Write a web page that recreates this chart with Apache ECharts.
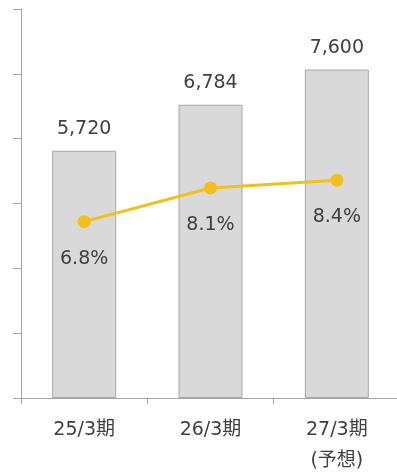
<!DOCTYPE html>
<html><head><meta charset="utf-8">
<script src="https://cdn.jsdelivr.net/npm/echarts@6/dist/echarts.min.js"></script>
<style>html,body{margin:0;padding:0;background:#fff}#c{width:397px;height:476px}</style>
</head><body><div id="c"></div>
<script>
const categories = ['25/3期', '26/3期', '27/3期\n(予想)'];
const sales = [5720, 6784, 7600];
const margin = [6.8, 8.1, 8.4];
const FONT = "'DejaVu Sans','Noto Sans CJK JP',sans-serif";
const chart = echarts.init(document.getElementById('c'));
chart.setOption({
  animation: false,
  textStyle: { fontFamily: FONT },
  grid: { left: 21, right: -3, top: 9, bottom: 78, outerBoundsMode: 'none', containLabel: false },
  xAxis: {
    type: 'category', data: categories, boundaryGap: true,
    axisLine: { lineStyle: { color: '#a6a6a6', width: 1 } },
    axisTick: { show: true, length: 6, lineStyle: { color: '#a6a6a6' } },
    axisLabel: { color: '#404040', fontSize: 19, fontFamily: FONT, margin: 17, lineHeight: 31 }
  },
  yAxis: [{
    type: 'value', min: 0, max: 9000, interval: 1500,
    axisLine: { show: true, lineStyle: { color: '#a6a6a6', width: 1 } },
    axisTick: { show: true, length: 8, lineStyle: { color: '#a6a6a6' } },
    axisLabel: { show: false },
    splitLine: { show: false }
  }, {
    type: 'value', min: 0, max: 15, show: false, splitLine: { show: false }
  }],
  series: [{
    type: 'bar', data: sales, barWidth: 64,
    itemStyle: { color: '#d9d9d9', borderColor: '#a6a6a6', borderWidth: 1 },
    label: { show: true, position: 'top', distance: 12, color: '#404040', fontSize: 19, fontFamily: FONT,
      formatter: p => p.value.toLocaleString('en-US') }
  }, {
    type: 'line', yAxisIndex: 1, data: margin,
    symbol: 'circle', symbolSize: 13,
    lineStyle: { color: '#f2c019', width: 3 },
    itemStyle: { color: '#f2c019' },
    label: { show: true, position: 'bottom', distance: 21, color: '#404040', fontSize: 19, fontFamily: FONT,
      formatter: p => p.value.toFixed(1) + '%' },
    z: 3
  }]
});
</script></body></html>
